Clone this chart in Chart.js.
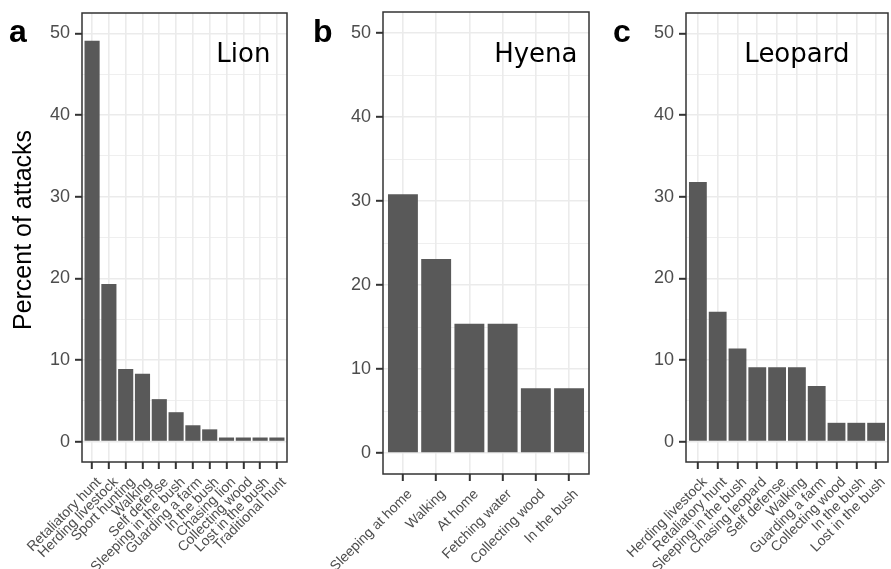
<!DOCTYPE html>
<html><head><meta charset="utf-8">
<script src="https://cdn.jsdelivr.net/npm/chart.js@4.4.0/dist/chart.umd.min.js"></script>
<style>
html,body{margin:0;padding:0;background:#fff;}
#wrap{position:relative;width:891px;height:569px;overflow:hidden;background:#fff;}
.p{position:absolute;top:0;height:569px;}
</style></head><body>
<div id="wrap">
<div class="p" style="left:0;width:300px"><canvas id="ca"></canvas></div>
<div class="p" style="left:300px;width:300px"><canvas id="cb"></canvas></div>
<div class="p" style="left:600px;width:291px"><canvas id="cc"></canvas></div>
</div>
<script>
// ---- data ----
const lionCategories = ["Retaliatory hunt","Herding livestock","Sport hunting","Walking","Self defense","Sleeping in the bush","Guarding a farm","In the bush","Chasing lion","Collecting wood","Lost in the bush","Traditional hunt"];
const lionValues = [49.1, 19.3, 8.9, 8.3, 5.2, 3.6, 2.0, 1.5, 0.5, 0.5, 0.5, 0.5];

const hyenaCategories = ["Sleeping at home","Walking","At home","Fetching water","Collecting wood","In the bush"];
const hyenaValues = [30.8, 23.1, 15.4, 15.4, 7.7, 7.7];

const leopardCategories = ["Herding livestock","Retaliatory hunt","Sleeping in the bush","Chasing leopard","Self defense","Walking","Guarding a farm","Collecting wood","In the bush","Lost in the bush"];
const leopardValues = [31.8, 15.9, 11.4, 9.1, 9.1, 9.1, 6.8, 2.3, 2.3, 2.3];

const yGridValues = [0, 5, 10, 15, 20, 25, 30, 35, 40, 45, 50];
const yLabelValues = [0, 10, 20, 30, 40, 50];

const panelLetters = ["a", "b", "c"];
const panelNames = ["Lion", "Hyena", "Leopard"];
const yTitle = "Percent of attacks";

// ---- drawing helpers ----
const decor = {
  id: 'decor',
  afterDraw(chart, args, o) {
    const {ctx, chartArea: a} = chart;
    ctx.save();
    ctx.strokeStyle = '#333333';
    ctx.lineWidth = 1.5;
    ctx.strokeRect(a.left, a.top, a.right - a.left, a.bottom - a.top);
    ctx.fillStyle = '#000';
    ctx.font = 'bold 32px "Liberation Sans", Arial, sans-serif';
    ctx.textAlign = 'left';
    ctx.textBaseline = 'alphabetic';
    ctx.fillText(o.letter, o.letterX, 42);
    ctx.font = '26px "DejaVu Sans", sans-serif';
    ctx.textAlign = 'center';
    const px = chart.scales.x.getPixelForValue(o.nameAt);
    const py = chart.scales.y.getPixelForValue(46.5);
    ctx.fillText(o.name, px, py);
    if (o.title) {
      ctx.translate(24, 230);
      ctx.rotate(-Math.PI / 2);
      ctx.font = '25px "Liberation Sans", Arial, sans-serif';
      ctx.textAlign = 'center';
      ctx.textBaseline = 'middle';
      ctx.fillText(o.title, 0, 0);
    }
    ctx.restore();
  }
};

function makePanel(id, categories, values, cfg) {
  const n = categories.length;
  return new Chart(document.getElementById(id), {
    type: 'bar',
    data: {
      datasets: [{
        data: values.map((v, i) => ({x: i + 1, y: v})),
        backgroundColor: '#595959',
        borderWidth: 0,
        categoryPercentage: 1,
        barPercentage: 0.9
      }]
    },
    options: {
      responsive: true,
      maintainAspectRatio: false,
      animation: false,
      layout: {padding: {top: cfg.top, right: cfg.right, left: 0, bottom: 0}},
      plugins: {
        legend: {display: false},
        tooltip: {enabled: false},
        decor: {letter: cfg.letter, letterX: cfg.letterX, name: cfg.name, nameAt: cfg.nameAt, title: cfg.title || ''}
      },
      scales: {
        x: {
          type: 'linear',
          min: 0.4, max: n + 0.6,
          offset: false,
          afterBuildTicks: s => { s.ticks = categories.map((_, i) => ({value: i + 1})); },
          afterFit: s => { s.height = cfg.xh; s.paddingLeft = 0; s.paddingRight = 0; },
          ticks: {
            autoSkip: false, maxRotation: 45, minRotation: 45, padding: 5, labelOffset: 7,
            color: '#4d4d4d',
            font: {family: '"Liberation Sans", Arial, sans-serif', size: 14},
            callback: v => categories[Math.round(v) - 1]
          },
          grid: {offset: false, color: '#ebebeb', lineWidth: 1.6, tickColor: '#333333', tickLength: 7, tickWidth: 2},
          border: {display: false}
        },
        y: {
          type: 'linear',
          min: -2.5, max: 52.5,
          afterBuildTicks: s => { s.ticks = yGridValues.map(v => ({value: v})); },
          afterFit: s => { s.width = cfg.yw; s.paddingTop = 0; s.paddingBottom = 0; },
          ticks: {
            autoSkip: false, padding: 5, color: '#4d4d4d',
            font: {family: '"Liberation Sans", Arial, sans-serif', size: 18},
            callback: v => yLabelValues.includes(v) ? String(v) : ''
          },
          grid: {
            color: '#ebebeb',
            lineWidth: c => (c.tick && yLabelValues.includes(c.tick.value)) ? 1.6 : 0.8,
            tickColor: c => (c.tick && yLabelValues.includes(c.tick.value)) ? '#333333' : 'rgba(0,0,0,0)',
            tickLength: 7, tickWidth: 2
          },
          border: {display: false},
          title: {display: false}
        }
      }
    },
    plugins: [decor]
  });
}

makePanel('ca', lionCategories, lionValues,
  {top: 13, right: 13, xh: 107, yw: 82, letter: panelLetters[0], letterX: 9, name: panelNames[0], nameAt: 10, title: yTitle});
makePanel('cb', hyenaCategories, hyenaValues,
  {top: 12, right: 11, xh: 95, yw: 83, letter: panelLetters[1], letterX: 13, name: panelNames[1], nameAt: 5});
makePanel('cc', leopardCategories, leopardValues,
  {top: 13, right: 3, xh: 107, yw: 86, letter: panelLetters[2], letterX: 13, name: panelNames[2], nameAt: 6});
</script>
</body></html>
